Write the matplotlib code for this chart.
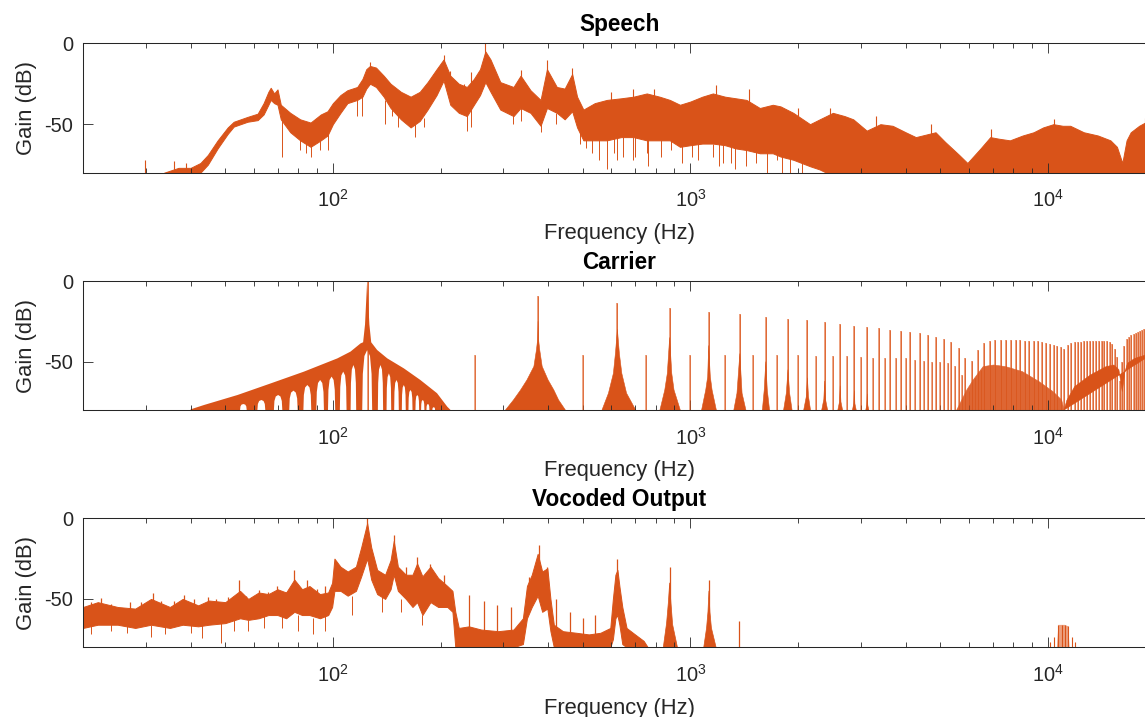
import numpy as np
import matplotlib
matplotlib.use("Agg")
import matplotlib.pyplot as plt
from matplotlib.ticker import NullFormatter

# ----------------------------------------------------------------- data
# ---- Speech spectrum: band envelope (Hz, dB)
speech_f = [33.7, 37, 40, 42.6, 44.7, 47.6, 50.8, 52.8, 57.7, 61.6, 64, 66, 67, 68.5, 70,
            71.5, 76, 81, 86.6, 92.5, 96.6, 100, 105, 109.8, 117, 121, 124, 127, 132,
            138.7, 145, 155, 165, 175, 184, 195, 204, 213, 225, 237, 248, 258, 267, 276,
            294, 320, 335, 357, 381, 397, 423, 445, 467, 482, 502, 540, 584, 640, 693,
            755, 820, 876, 935, 1000, 1080, 1156, 1250, 1340, 1435, 1564, 1700, 1787,
            1940, 2161, 2300, 2400, 2503, 2700, 2855, 3113, 3400, 3678, 4000, 4272, 4850,
            5160, 5645, 5955, 6480, 6900, 7300, 7830, 8500, 9120, 9700, 10360, 11000,
            11550, 12600, 13800, 14960, 15600, 16150, 16600, 17050, 18000, 18700, 20000]
speech_hi = [-80, -77, -77, -74, -69, -60, -52, -48.5, -45.5, -43.5, -37, -30, -27.5, -31, -28.5,
             -38, -43, -47, -49, -44, -42, -37, -32, -29, -27, -22, -16, -14, -15,
             -20, -25, -30, -33, -30, -24, -16, -10, -20, -25, -27, -22, -16, -5, -10,
             -24, -27, -20, -29, -35, -16, -27, -28, -19, -33, -41, -37, -35, -34, -33,
             -31, -33, -35, -38, -36, -33, -31, -33, -34, -35, -40, -38, -39,
             -43, -50, -47, -45, -43, -45, -47, -54, -50, -51, -55, -58, -55,
             -61, -69, -74, -65, -58, -59, -60, -57, -55, -52, -50, -51,
             -51, -55, -57, -60, -64, -74, -60, -55, -51, -49, -48]
speech_lo = [-80, -80, -80, -80, -75, -65, -56, -51.5, -48.5, -47.5, -44, -38, -35, -37, -38,
             -47, -55, -60, -64, -60, -57, -50, -43, -37, -35, -33, -28, -25, -27,
             -33, -40, -47, -52, -48, -41, -32, -23, -38, -43, -45, -38, -32, -24, -30,
             -41, -45, -40, -43, -51, -40, -43, -47, -42, -52, -60, -60, -60, -58, -58,
             -60, -60, -60, -64, -63, -62, -62, -63, -65, -66, -68, -68, -70,
             -72, -76, -78, -80, -80, -80, -80, -80, -80, -80, -80, -80, -80,
             -80, -80, -80, -80, -80, -80, -80, -80, -80, -80, -80, -80,
             -80, -80, -80, -80, -80, -80, -80, -80, -80, -80, -80]
speech_peak_f = [29.8, 36, 38.8, 127, 204, 213, 232, 244, 267, 300, 335, 397, 467, 600,
                 693, 790, 1180, 1460, 2000, 2450, 3300, 4700, 6950, 10400, 18700]
speech_peak_base = [-80, -80, -80, -20, -15, -25, -30, -28, -15, -30, -30, -25, -30, -40,
                    -38, -38, -36, -40, -48, -47, -54, -57, -60, -52, -51]
speech_peak_top = [-72, -73, -74, -11.4, -7.2, -17, -25, -18, 0, -25, -16.5, -10.3, -15.5,
                   -30, -28, -28, -26, -28, -40, -40, -45, -50, -53, -47, -46]
speech_dip_f = [72, 81, 84, 86.6, 92, 96.6, 117, 121, 140, 146, 152, 170, 180, 237, 243,
                320, 335, 381, 420, 490, 510, 530, 555, 584, 610, 622, 650, 693, 700,
                755, 760, 830, 880, 950, 1010, 1050, 1156, 1200, 1230, 1300, 1330, 1435,
                1530, 1640, 1750, 1800, 1900, 2050]
speech_dip_top = [-45, -58, -60, -60, -58, -55, -34, -30, -35, -38, -44, -50, -46, -44, -40,
                  -44, -38, -50, -43, -55, -58, -58, -59, -58, -58, -58, -58, -58, -56,
                  -58, -58, -60, -58, -62, -62, -60, -62, -60, -62, -62, -64, -64,
                  -66, -66, -68, -68, -70, -72]
speech_dip_bottom = [-70, -66, -68, -70, -66, -66, -45, -45, -50, -45, -52, -58, -52, -54,
                     -52, -50, -48, -55, -50, -62, -65, -68, -72, -78, -68, -72, -70, -72,
                     -70, -68, -76, -70, -66, -74, -70, -72, -70, -76, -74, -74, -78, -76,
                     -74, -80, -72, -80, -80, -80]

# ---- Carrier: skirt of the 125 Hz fundamental (top envelope) and its null notches
carrier_skirt0_f = [40.0, 43.6, 54.1, 67.0, 83.0, 92.4, 102.9, 112, 119.5, 121.5, 123,
                    124.7, 126.5, 128, 133, 142, 158, 175.7, 195.6, 209, 213.4]
carrier_skirt0_db = [-79.6, -76.9, -70.7, -63.5, -56.2, -52.1, -48, -43.8, -38.7, -38, -27,
                     0, -27, -38, -42.8, -48, -54.2, -61.4, -69.6, -78, -80]
carrier_notch_left = [55.0, 61.5, 68.4, 75.5, 82.7, 89.9, 96.9, 104.6, 112.1, 120.8,
                      133.6, 141.3, 148.4, 155.9, 162.7, 170.2, 176.5, 182.7, 189.8]
carrier_notch_right = [57.4, 64.7, 72.2, 79.7, 87.0, 94.4, 101.5, 109.2, 116.2, 128.8,
                       138.2, 145.6, 152.9, 159.9, 167.0, 174.3, 180.3, 186.2, 193.1]
carrier_notch_top = [-76.3, -73.8, -70.7, -68.0, -64.5, -61.4, -59.3, -56.2, -52.1, -42.8,
                     -52.1, -57.3, -61.4, -64.5, -67.6, -70.7, -73.8, -76.3, -78.3]

# skirts of the higher odd harmonics (Hz, dB)
carrier_skirt_f = [
    [304, 320, 335, 349, 365, 371, 374, 375, 376, 379, 385, 400, 415, 428, 447],
    [566, 590, 609, 617, 625, 633, 643, 663, 703],
    [822, 848, 862, 875, 887, 900, 937],
    [1075, 1104, 1118, 1125, 1137, 1150, 1182],
    [1323, 1350, 1375, 1395, 1430],
    [1590, 1609, 1625, 1641, 1665],
    [1823, 1855, 1875, 1895, 1925],
    [2075, 2110, 2125, 2140, 2168],
    [2330, 2362, 2375, 2388, 2420],
    [2585, 2613, 2625, 2637, 2665],
    [2840, 2865, 2875, 2885, 2910],
    [3095, 3115, 3125, 3135, 3155],
]
carrier_skirt_db = [
    [-80, -73.8, -67.6, -61.4, -53, -42.8, -36, -25, -36, -42.8, -53, -61.4, -67.6, -73.8, -80],
    [-80, -69.6, -57.3, -45, -30, -45, -57.3, -69.6, -80],
    [-80, -67.6, -57.3, -35, -57.3, -67.6, -80],
    [-80, -67.6, -59.3, -40, -59.3, -67.6, -80],
    [-80, -69.6, -45, -69.6, -80],
    [-80, -67.6, -50, -67.6, -80],
    [-80, -69.6, -55, -69.6, -80],
    [-80, -71.7, -60, -71.7, -80],
    [-80, -73.4, -62, -73.4, -80],
    [-80, -74.9, -65, -74.9, -80],
    [-80, -76, -68, -76, -80],
    [-80, -77, -70, -77, -80],
]

# odd harmonic lines (Hz) and their peak levels (dB)
carrier_odd_f = [125, 375, 625, 875, 1125, 1375, 1625, 1875, 2125, 2375, 2625, 2875, 3125,
                 3375, 3625, 3875, 4125, 4375, 4625, 4875, 5125, 5375, 5625, 5875, 6125,
                 6375, 6625, 6875, 7125, 7375, 7625, 7875, 8125, 8375, 8625, 8875, 9125,
                 9375, 9625, 9875, 10125, 10375, 10625, 10875, 11125, 11375, 11625, 11875,
                 12125, 12375, 12625, 12875, 13125, 13375, 13625, 13875, 14125, 14375,
                 14625, 14875, 15125, 15375, 15625, 15875, 16125, 16375, 16625, 16875,
                 17125, 17375, 17625, 17875, 18125, 18375, 18625, 18875, 19125, 19375,
                 19625, 19875]
carrier_odd_db = [0, -9.3, -13.8, -16.9, -19.0, -20.4, -22.4, -23.6, -24.4, -25.6, -26.7,
                  -27.7, -28.5, -29.4, -30.2, -30.8, -31.4, -32.2, -33.3, -34.5, -36.0,
                  -38.0, -41.5, -47.5, -49.5, -43.0, -38.6, -37.2, -36.8, -36.6, -36.6,
                  -36.7, -36.8, -36.8, -37.0, -37.1, -37.3, -37.5, -38.0, -38.5, -39.0,
                  -39.5, -40.2, -41.0, -42.0, -39.5, -38.5, -38.0, -37.8, -37.6, -37.5,
                  -37.4, -37.3, -37.2, -37.2, -37.1, -37.1, -37.2, -37.4, -37.8, -39.0,
                  -42.0, -47.0, -62.0, -50.0, -40.0, -36.0, -34.5, -33.5, -32.8, -32.0,
                  -31.5, -31.0, -30.5, -30.0, -29.5, -29.2, -28.8, -28.5, -28.2]
# even harmonic lines
carrier_even_f = [250, 500, 750, 1000, 1250, 1500, 1750, 2000, 2250, 2500, 2750, 3000,
                  3250, 3500, 3750, 4000, 4250, 4500, 4750, 5000, 5250, 5500, 5750, 6000,
                  6250, 6500]
carrier_even_db = [-46, -46, -46, -46, -46, -46, -46, -46, -46.5, -46.5, -46.5, -47,
                   -47.5, -47.5, -48, -48, -49, -49.5, -50, -50, -51, -53, -58, -68,
                   -60, -55]
# broadband floor at high frequencies
carrier_hump_f = [5560, 5930, 6180, 6590, 7050, 7620, 8490, 9450, 10340, 10930, 11100]
carrier_hump_db = [-80, -67.6, -61.4, -53.1, -52.1, -53.1, -56.2, -62.4, -68.6, -73.8, -80]
carrier_floor_f = [11100, 11300, 11880, 13150, 14550, 15300, 15800, 16000, 16150, 16400,
                   16700, 17500, 18700, 20000]
carrier_floor_db = [-80, -74, -65.5, -58.3, -53.1, -52.1, -55, -63, -68.6, -57, -51, -48,
                    -46, -44]

# ---- Vocoded output
voc_f = [20, 22, 25, 28, 31, 35, 38, 42, 45, 50, 55, 58, 62, 66, 70, 74, 78, 82, 86, 92,
         97, 99.5, 101, 105, 110, 116, 120, 124.7, 128, 133, 140, 145, 148, 152, 160, 167,
         172, 178, 187.5, 197, 209, 216, 220, 225, 240, 260, 290, 320, 340, 349, 360, 374,
         385, 398, 406, 415, 440, 480, 520, 560, 597, 607, 617, 625, 633, 645, 663, 700,
         740, 760]
voc_hi = [-55, -52, -55, -56, -50, -55, -50, -54, -51, -52, -45, -50, -46, -47, -44, -46,
          -38, -44, -42, -47, -46, -40, -25, -30, -33, -30, -18, -3, -18, -32, -35, -26,
          -14, -30, -35, -35, -28, -36, -30, -37, -42, -45, -58, -68, -67, -69, -70, -69,
          -62, -42, -35, -22, -33, -31, -50, -66, -70, -71, -72, -71, -68, -50, -35, -32,
          -42, -55, -68, -72, -76, -80]
voc_lo = [-68, -66, -66, -68, -66, -68, -66, -67, -66, -65, -62, -63, -62, -60, -60, -62,
          -58, -60, -60, -62, -60, -55, -45, -45, -48, -45, -36, -25, -38, -47, -50, -44,
          -35, -45, -50, -55, -52, -60, -52, -55, -55, -58, -80, -80, -80, -80, -80, -80,
          -78, -62, -55, -48, -58, -56, -70, -80, -80, -80, -80, -80, -80, -75, -62, -60,
          -66, -78, -80, -80, -80, -80]
voc_peak_f = [21, 22.4, 24, 27, 29, 31.3, 33, 36, 38.3, 41, 44.7, 47, 51, 54.6, 57, 62, 66,
              69.9, 74, 77.9, 81, 84.8, 90, 95, 124.7, 148, 160, 172, 187.5, 205,
              241, 265, 288, 314, 353, 376, 397, 421, 462, 500, 540, 625, 875, 1127, 1370]
voc_peak_base = [-60, -58, -60, -60, -58, -58, -60, -60, -58, -58, -58, -58, -56, -55, -56,
                 -55, -55, -55, -54, -50, -54, -52, -55, -54, -10, -25, -40, -38, -40, -45,
                 -75, -75, -75, -75, -55, -35, -45, -75, -75, -75, -75, -40, -60, -62, -80]
voc_peak_top = [-52, -49.6, -53, -52, -52, -46.5, -51, -51, -47.5, -50, -48.6, -50, -49,
                -38.2, -48, -44.4, -46, -42.2, -46, -32, -44, -38.2, -44, -42, 0, -10.3,
                -30, -23.8, -28.1, -35, -47.3, -51.4, -53.7, -54.7, -36.2, -16.5, -30, -50,
                -58, -62, -60, -25.4, -30, -38.2, -63.8]
voc_dip_f = [21, 24, 26.5, 31, 34, 40, 43, 48.5, 53, 58, 64, 72, 80, 88, 95, 113, 137,
             155, 178]
voc_dip_top = [-66, -64, -66, -66, -66, -64, -64, -65, -63, -63, -60, -60, -60, -62, -60,
               -48, -47, -50, -60]
voc_dip_bottom = [-72, -70, -71.4, -73.5, -72, -71, -74, -77.5, -70, -70, -68, -68, -70,
                  -72, -70, -60, -58, -58, -66]
voc_bump_f = [[840, 858, 868, 875, 882, 892, 920],
              [1090, 1110, 1120, 1127, 1134, 1145, 1180]]
voc_bump_db = [[-80, -65, -52, -40, -52, -66, -80],
               [-80, -68, -58, -45, -58, -68, -80]]
voc_hf_f = [10150, 10370, 10700, 10920, 11160, 11400, 11650, 11910]
voc_hf_db = [-77, -73.4, -66.1, -66.1, -66.1, -67, -73.4, -77]

# ----------------------------------------------------------------- style
C = '#D95319'
LIGHT = '#EDA07E'
AXC = '#262626'
plt.rcParams['font.family'] = ['Liberation Sans', 'DejaVu Sans']
plt.rcParams['mathtext.default'] = 'regular'
plt.rcParams['axes.unicode_minus'] = False

fig = plt.figure(figsize=(11.45, 7.17), dpi=100)
FW, FH = 1145.0, 717.0
left_px, right_px = 83.0, 1155.5
panel_px = [(43.3, 172.7), (281.0, 410.0), (518.3, 647.3)]
titles = ['Speech', 'Carrier', 'Vocoded Output']
axes = []
for (top, bot), ttl in zip(panel_px, titles):
    ax = fig.add_axes([left_px / FW, 1 - bot / FH, (right_px - left_px) / FW, (bot - top) / FH])
    ax.set_xscale('log')
    ax.set_xlim(20, 20000)
    ax.set_ylim(-80, 0)
    ax.set_yticks([-50, 0])
    ax.xaxis.set_minor_formatter(NullFormatter())
    ax.tick_params(which='both', direction='in', top=True, right=True, color=AXC,
                   labelcolor=AXC, labelsize=14.4, width=0.6)
    ax.tick_params(which='major', length=7)
    ax.tick_params(which='minor', length=3.6)
    ax.tick_params(axis='x', which='major', pad=12)
    ax.tick_params(axis='y', pad=7)
    for s in ax.spines.values():
        s.set_color(AXC)
        s.set_linewidth(0.75)
    ax.set_title(ttl, fontsize=16.3, fontweight='bold', color='black', pad=9)
    ax.set_xlabel('Frequency (Hz)', fontsize=15.8, color=AXC)
    ax.set_ylabel('Gain (dB)', fontsize=15.8, color=AXC)
    ax.xaxis.set_label_coords(0.5, -0.39)
    ax.yaxis.set_label_coords(-0.043, 0.5)
    axes.append(ax)

ax1, ax2, ax3 = axes

# ----------------------------------------------------------------- Speech
ax1.fill_between(speech_f, speech_lo, speech_hi, color=C, lw=0.7, zorder=1.5)
ax1.vlines(speech_peak_f, speech_peak_base, speech_peak_top, colors=C, lw=0.8, zorder=1.6)
ax1.vlines(speech_dip_f, speech_dip_top, speech_dip_bottom, colors=C, lw=0.7, zorder=1.6)

# ----------------------------------------------------------------- Carrier
# fundamental skirt with its nulls cut out of the bottom edge
NU = [0.0, 0.06, 0.22, 0.5, 0.78, 0.94, 1.0]
NH = [0.0, 0.6, 0.9, 1.0, 0.9, 0.6, 0.0]
xs, ys = [carrier_skirt0_f[0]], [-80.0]
for l, r, t in zip(carrier_notch_left, carrier_notch_right, carrier_notch_top):
    ll, lr = np.log10(l), np.log10(r)
    for u, h in zip(NU, NH):
        xs.append(10 ** (ll + u * (lr - ll)))
        ys.append(-80 + h * (t + 80))
xs.append(carrier_skirt0_f[-1]); ys.append(-80.0)
xs += carrier_skirt0_f[::-1]
ys += carrier_skirt0_db[::-1]
ax2.fill(xs, ys, color=C, lw=0, zorder=1.5)

for sf, sd in zip(carrier_skirt_f, carrier_skirt_db):
    ax2.fill(sf, sd, color=C, lw=0.4, zorder=1.5)

ax2.fill(carrier_hump_f, carrier_hump_db, color='#DE6633', lw=0.4, zorder=1.4)
ax2.fill(carrier_floor_f, carrier_floor_db, color=C, lw=0.4, zorder=1.5)

ax2.vlines(carrier_even_f, -80, carrier_even_db, colors=LIGHT, lw=1.3, zorder=1.3)
ax2.vlines(carrier_even_f, -80, carrier_even_db, colors=C, lw=0.45, zorder=1.6)
ax2.vlines(carrier_odd_f, -80, carrier_odd_db, colors=LIGHT, lw=1.4, zorder=1.3)
ax2.vlines(carrier_odd_f, -80, carrier_odd_db, colors=C, lw=0.5, zorder=1.6)

# ----------------------------------------------------------------- Vocoded
ax3.fill_between(voc_f, voc_lo, voc_hi, color=C, lw=0.7, zorder=1.5)
for bf, bd in zip(voc_bump_f, voc_bump_db):
    ax3.fill(bf, bd, color=C, lw=0.5, zorder=1.5)
ax3.vlines(voc_peak_f, voc_peak_base, voc_peak_top, colors=C, lw=0.9, zorder=1.6)
ax3.vlines(voc_dip_f, voc_dip_top, voc_dip_bottom, colors=C, lw=0.7, zorder=1.6)
ax3.fill([10600, 10700, 11160, 11400, 11500], [-80, -66.1, -66.1, -67, -80],
         color=LIGHT, lw=0, zorder=1.3)
ax3.vlines(voc_hf_f, -80, voc_hf_db, colors=C, lw=0.8, zorder=1.6)

fig.savefig('out.png', dpi=100)
